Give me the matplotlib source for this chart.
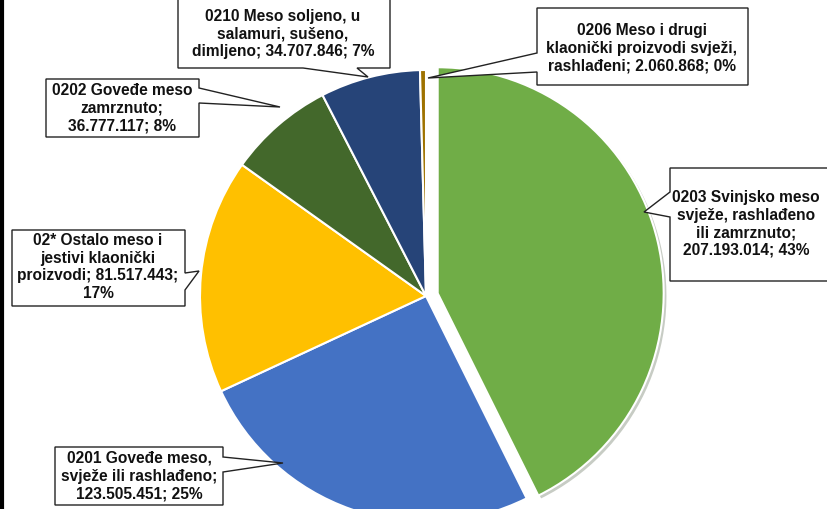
import matplotlib.pyplot as plt
from matplotlib.patches import Polygon
import matplotlib.patheffects as pe

# data, clockwise from 12 o'clock
codes = ['0203', '0201', '02*', '0202', '0210', '0206']
values = [207193014, 123505451, 81517443, 36777117, 34707846, 2060868]
label_tpl = [
    '0203 Svinjsko meso\nsvježe, rashlađeno\nili zamrznuto;\n{v}; {p}',
    '0201 Goveđe meso,\nsvježe ili rashlađeno;\n{v}; {p}',
    '02* Ostalo meso i\njestivi klaonički\nproizvodi; {v};\n{p}',
    '0202 Goveđe meso\nzamrznuto;\n{v}; {p}',
    '0210 Meso soljeno, u\nsalamuri, sušeno,\ndimljeno; {v}; {p}',
    '0206 Meso i drugi\nklaonički proizvodi svježi,\nrashlađeni; {v}; {p}',
]
colors = ['#70AD47', '#4472C4', '#FFC000', '#43682B', '#264478', '#9E7200']

W, H = 827, 509
fig = plt.figure(figsize=(W / 100, H / 100), dpi=100)
ax = fig.add_axes([0, 0, 1, 1])

cx, cy, r = 426, H - 296, 226
# explode is in data units here (pixels)
wedges, _ = ax.pie(values, colors=colors, startangle=90, counterclock=False,
                   center=(cx, cy), radius=r, explode=[12, 0, 0, 0, 0, 0],
                   wedgeprops=dict(edgecolor='white', linewidth=1.5),
                   frame=True)
wedges[0].set_path_effects([pe.SimplePatchShadow(offset=(2, -2), alpha=0.25),
                            pe.Normal()])
ax.set_xlim(0, W)
ax.set_ylim(0, H)
ax.set_aspect('equal')
ax.axis('off')

total = sum(values)


def fmt(v):
    return f'{v:,}'.replace(',', '.')


# box (left, top, right, bottom) in pixels from top, side, pointer base, tip, text centre
boxes = [
    ((670, 168, 840, 281), 'left', (192, 217), (644, 212), (746, 224)),
    ((55, 447, 223, 505), 'right', (457, 472), (283, 463), (139, 476)),
    ((12, 230, 185, 306), 'right', (273, 290), (199, 271), (98, 267)),
    ((46, 79, 199, 137), 'right', (88, 103), (280, 107), (122, 108)),
    ((178, -6, 390, 68), 'bottom', (303, 357), (368, 77), (283, 34)),
    ((537, 8, 748, 85), 'left', (53, 72), (428, 78), (642, 48)),
]

for i, (tpl, v) in enumerate(zip(label_tpl, values)):
    (x0, y0, x1, y1), side, (b0, b1), (tx, ty), (lx, ly) = boxes[i]
    if side == 'left':
        pts = [(x0, y0), (x1, y0), (x1, y1), (x0, y1), (x0, b1), (tx, ty), (x0, b0)]
    elif side == 'right':
        pts = [(x0, y0), (x1, y0), (x1, b0), (tx, ty), (x1, b1), (x1, y1), (x0, y1)]
    else:
        pts = [(x0, y0), (x1, y0), (x1, y1), (b1, y1), (tx, ty), (b0, y1), (x0, y1)]
    ax.add_patch(Polygon([(x, H - y) for x, y in pts], closed=True,
                         facecolor='white', edgecolor='#222222', linewidth=1.0,
                         zorder=5))
    p = f'{round(100 * v / total)}%'
    ax.text(lx, H - ly, tpl.format(v=fmt(v), p=p), ha='center', va='center',
            fontsize=11.2, fontweight='bold', family='Liberation Sans',
            linespacing=1.22, color='#111111', zorder=6)

ax.plot([1.5, 1.5], [0, H], color='black', linewidth=3, zorder=7)

fig.savefig('out.png', dpi=100)
